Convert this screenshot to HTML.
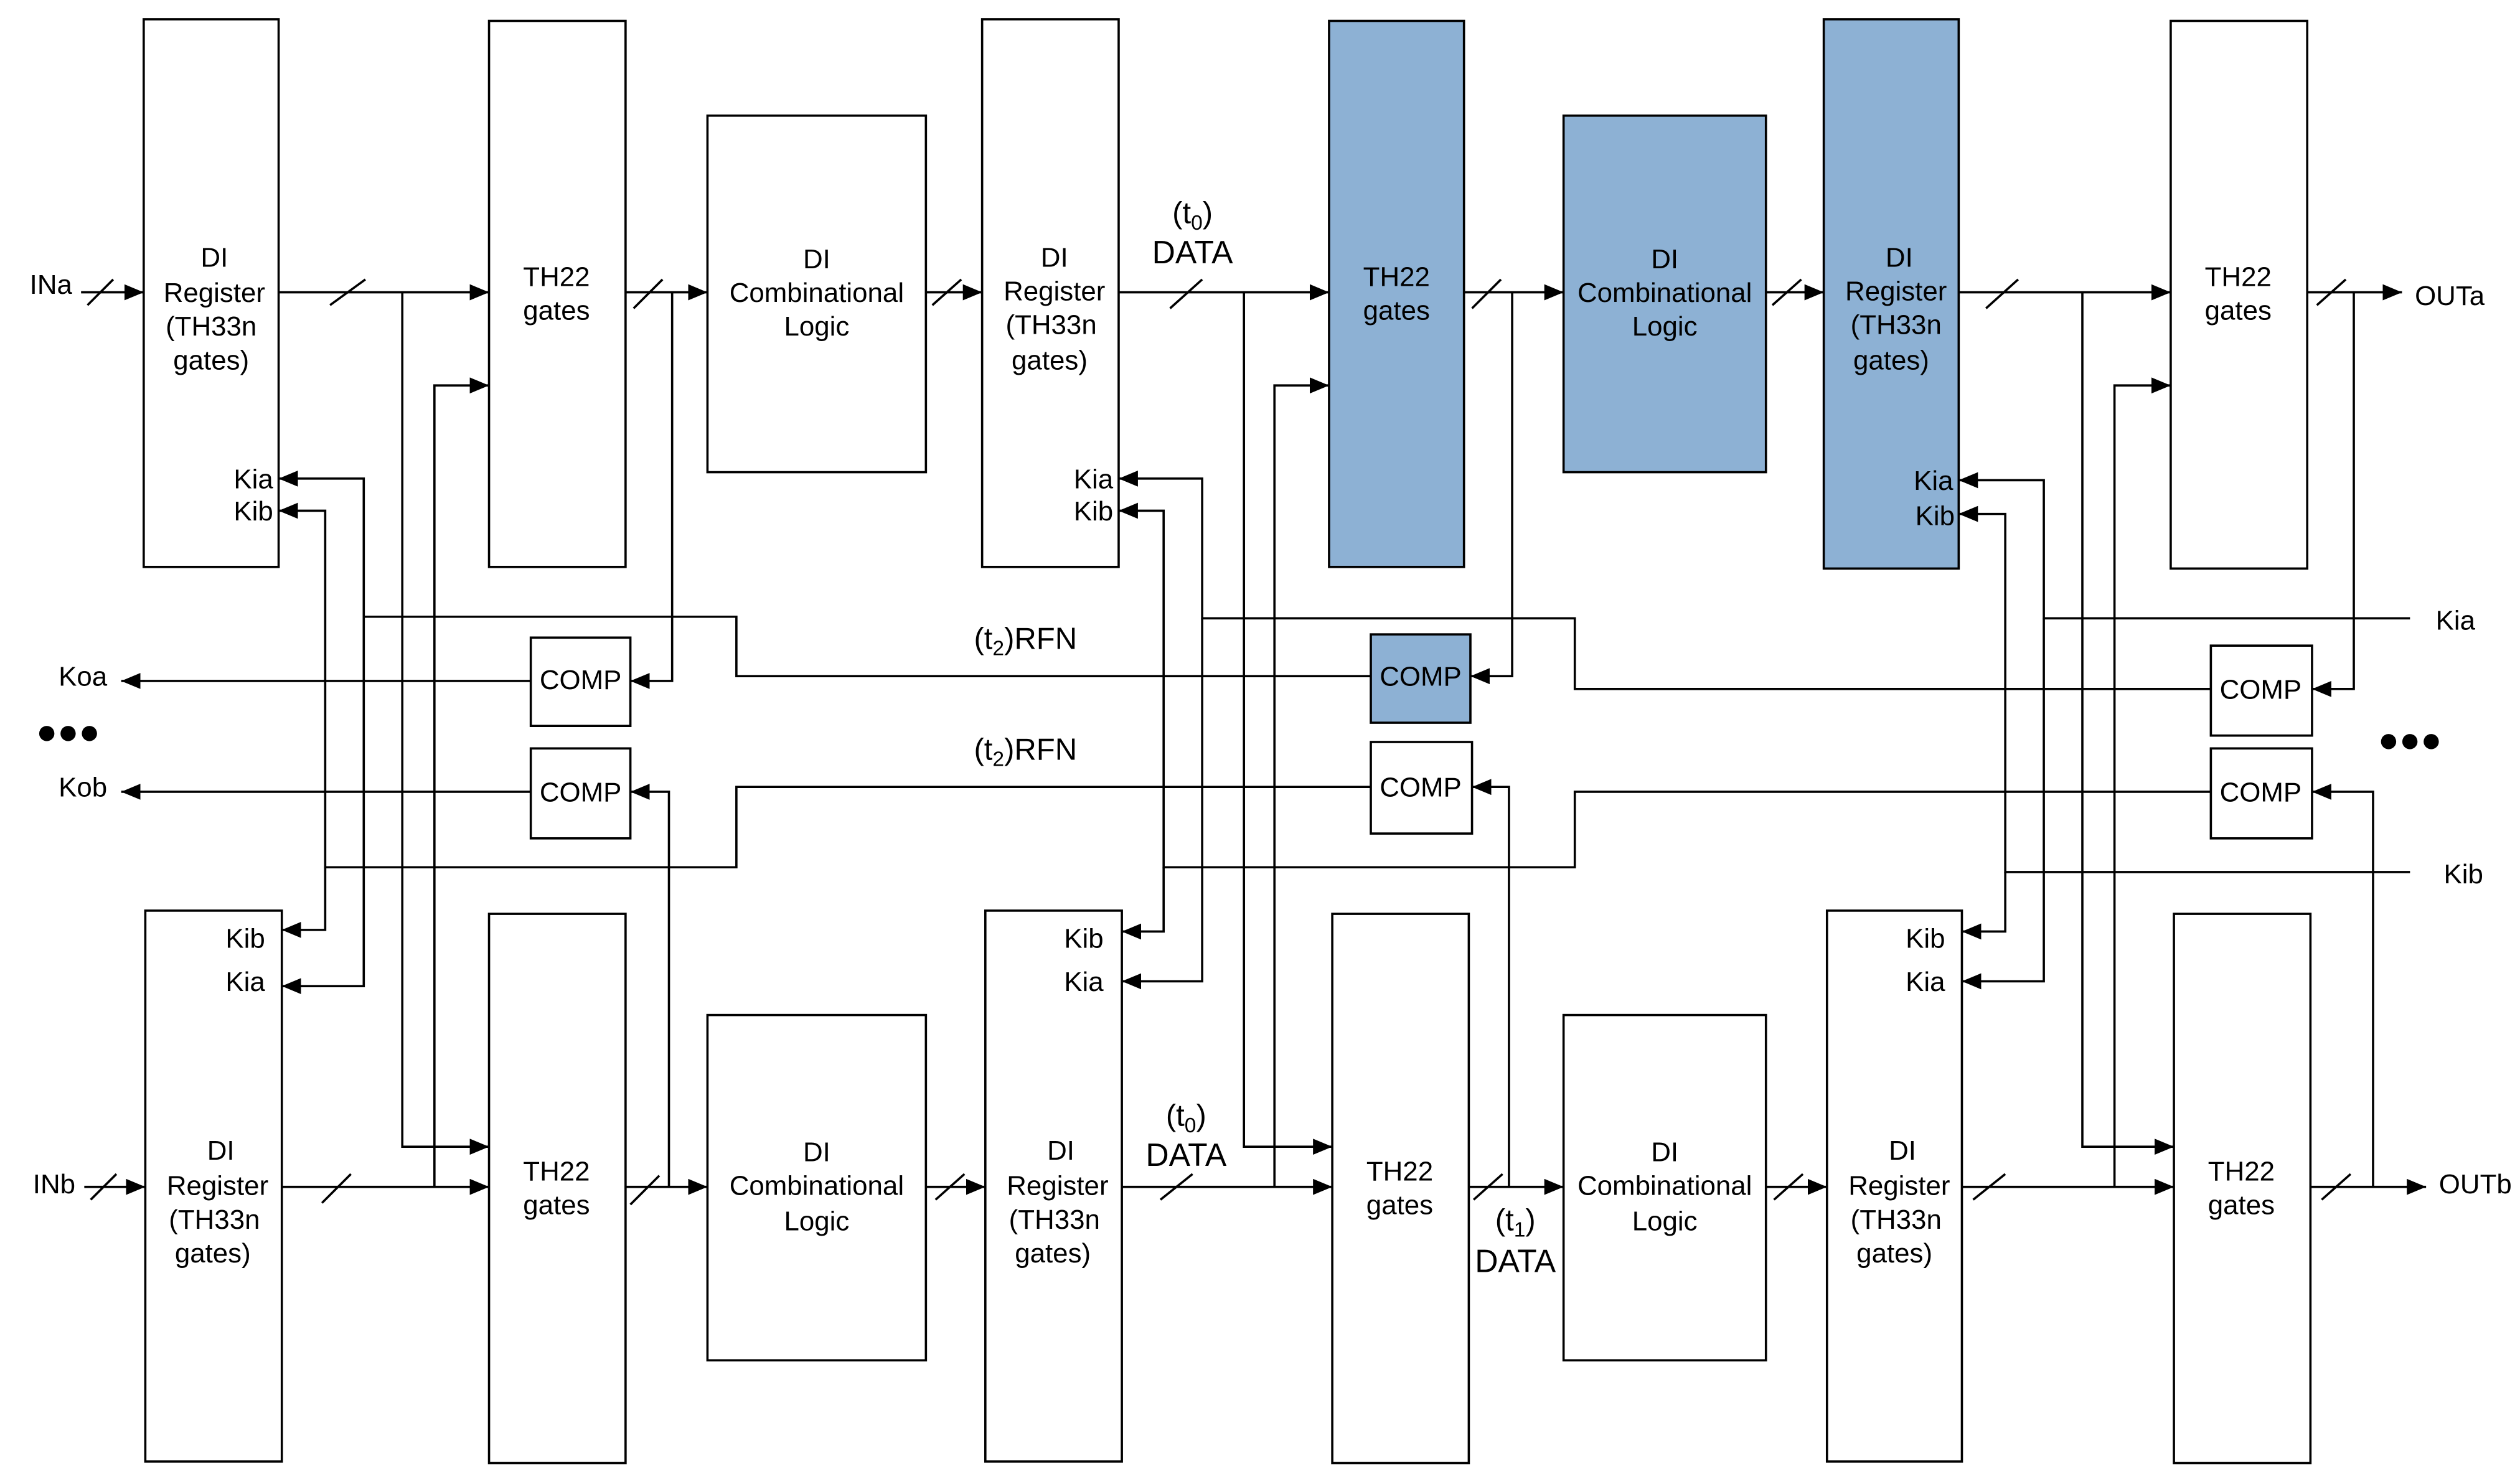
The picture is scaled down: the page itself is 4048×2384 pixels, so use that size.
<!DOCTYPE html>
<html><head><meta charset="utf-8"><style>
html,body{margin:0;padding:0;background:#fff;}
svg{display:block;}
text{font-family:"Liberation Sans",sans-serif;font-size:17px;fill:#000;}
</style></head><body>
<svg width="4048" height="2384" viewBox="0 0 1568 924" xmlns="http://www.w3.org/2000/svg">
<defs>
<marker id="a" markerWidth="12" markerHeight="10" refX="12" refY="5" orient="auto" markerUnits="userSpaceOnUse">
<path d="M0,0 L12,5 L0,10 z" fill="#000"/></marker>
</defs>
<g fill="#fff" stroke="#000" stroke-width="1.4">
<rect x="89" y="12" width="84" height="341"/>
<rect x="304" y="13" width="85" height="340"/>
<rect x="440" y="72" width="136" height="222"/>
<rect x="611" y="12" width="85" height="341"/>
<rect x="827" y="13" width="84" height="340" fill="#8db1d4"/>
<rect x="973" y="72" width="126" height="222" fill="#8db1d4"/>
<rect x="1135" y="12" width="84" height="342" fill="#8db1d4"/>
<rect x="1351" y="13" width="85" height="341"/>
<rect x="90" y="567" width="85" height="343"/>
<rect x="304" y="569" width="85" height="342"/>
<rect x="440" y="632" width="136" height="215"/>
<rect x="613" y="567" width="85" height="343"/>
<rect x="829" y="569" width="85" height="342"/>
<rect x="973" y="632" width="126" height="215"/>
<rect x="1137" y="567" width="84" height="343"/>
<rect x="1353" y="569" width="85" height="342"/>
<rect x="330" y="397" width="62" height="55"/>
<rect x="330" y="466" width="62" height="56"/>
<rect x="853" y="395" width="62" height="55" fill="#8db1d4"/>
<rect x="853" y="462" width="63" height="57"/>
<rect x="1376" y="402" width="63" height="56"/>
<rect x="1376" y="466" width="63" height="56"/>
</g>
<g fill="none" stroke="#000" stroke-width="1.4">
<path d="M50,182H89" marker-end="url(#a)"/>
<path d="M173,182H304" marker-end="url(#a)"/>
<path d="M389,182H440" marker-end="url(#a)"/>
<path d="M576,182H611" marker-end="url(#a)"/>
<path d="M696,182H827" marker-end="url(#a)"/>
<path d="M911,182H973" marker-end="url(#a)"/>
<path d="M1099,182H1135" marker-end="url(#a)"/>
<path d="M1219,182H1351" marker-end="url(#a)"/>
<path d="M1436,182H1495" marker-end="url(#a)"/>
<path d="M52,739H90" marker-end="url(#a)"/>
<path d="M175,739H304" marker-end="url(#a)"/>
<path d="M389,739H440" marker-end="url(#a)"/>
<path d="M576,739H613" marker-end="url(#a)"/>
<path d="M698,739H829" marker-end="url(#a)"/>
<path d="M914,739H973" marker-end="url(#a)"/>
<path d="M1099,739H1137" marker-end="url(#a)"/>
<path d="M1221,739H1353" marker-end="url(#a)"/>
<path d="M1438,739H1510" marker-end="url(#a)"/>
<path d="M54,190L70,174M205,190L227,174M394,192L412,174M580,190L598,174M728,192L748,174M916,192L934,174M1103,190L1121,174M1236,192L1256,174M1442,190L1460,174"/>
<path d="M56,747L72,731M200,749L218,731M392,750L410,732M582,747L600,731M722,747L742,731M917,747L935,731M1104,747L1122,731M1228,747L1248,731M1445,747L1463,731"/>
<path d="M250,182V714H304" marker-end="url(#a)"/>
<path d="M270,739V240H304" marker-end="url(#a)"/>
<path d="M774,182V714H829" marker-end="url(#a)"/>
<path d="M793,739V240H827" marker-end="url(#a)"/>
<path d="M1296,182V714H1353" marker-end="url(#a)"/>
<path d="M1316,739V240H1351" marker-end="url(#a)"/>
<path d="M418,182V424H392" marker-end="url(#a)"/>
<path d="M416,739V493H392" marker-end="url(#a)"/>
<path d="M941,182V421H915" marker-end="url(#a)"/>
<path d="M939,739V490H916" marker-end="url(#a)"/>
<path d="M1465,182V429H1439" marker-end="url(#a)"/>
<path d="M1477,739V493H1439" marker-end="url(#a)"/>
<path d="M330,424H75" marker-end="url(#a)"/>
<path d="M330,493H75" marker-end="url(#a)"/>
<path d="M853,421H458V384H226V298H173" marker-end="url(#a)"/>
<path d="M226,384V614H175" marker-end="url(#a)"/>
<path d="M853,490H458V540H202V318H173" marker-end="url(#a)"/>
<path d="M202,540V579H175" marker-end="url(#a)"/>
<path d="M1376,429H980V385H748V298H696" marker-end="url(#a)"/>
<path d="M748,385V611H698" marker-end="url(#a)"/>
<path d="M1376,493H980V540H724V318H696" marker-end="url(#a)"/>
<path d="M724,540V580H698" marker-end="url(#a)"/>
<path d="M1500,385H1272V299H1219" marker-end="url(#a)"/>
<path d="M1272,385V611H1221" marker-end="url(#a)"/>
<path d="M1500,543H1248V320H1219" marker-end="url(#a)"/>
<path d="M1248,543V580H1221" marker-end="url(#a)"/>
</g>
<g text-anchor="middle">
<text x="133" y="166">DI</text><text x="133" y="188">Register</text><text x="131" y="209">(TH33n</text><text x="131" y="230">gates)</text>
<text x="346" y="178">TH22</text><text x="346" y="199">gates</text>
<text x="508" y="167">DI</text><text x="508" y="188">Combinational</text><text x="508" y="209">Logic</text>
<text x="656" y="166">DI</text><text x="656" y="187">Register</text><text x="654" y="208">(TH33n</text><text x="653" y="230">gates)</text>
<text x="869" y="178">TH22</text><text x="869" y="199">gates</text>
<text x="1036" y="167">DI</text><text x="1036" y="188">Combinational</text><text x="1036" y="209">Logic</text>
<text x="1182" y="166">DI</text><text x="1180" y="187">Register</text><text x="1180" y="208">(TH33n</text><text x="1177" y="230">gates)</text>
<text x="1393" y="178">TH22</text><text x="1393" y="199">gates</text>
<text x="137" y="722">DI</text><text x="135" y="744">Register</text><text x="133" y="765">(TH33n</text><text x="132" y="786">gates)</text>
<text x="346" y="735">TH22</text><text x="346" y="756">gates</text>
<text x="508" y="723">DI</text><text x="508" y="744">Combinational</text><text x="508" y="766">Logic</text>
<text x="660" y="722">DI</text><text x="658" y="744">Register</text><text x="656" y="765">(TH33n</text><text x="655" y="786">gates)</text>
<text x="871" y="735">TH22</text><text x="871" y="756">gates</text>
<text x="1036" y="723">DI</text><text x="1036" y="744">Combinational</text><text x="1036" y="766">Logic</text>
<text x="1184" y="722">DI</text><text x="1182" y="744">Register</text><text x="1180" y="765">(TH33n</text><text x="1179" y="786">gates)</text>
<text x="1395" y="735">TH22</text><text x="1395" y="756">gates</text>
<text x="361" y="429">COMP</text><text x="361" y="499">COMP</text>
<text x="884" y="427">COMP</text><text x="884" y="496">COMP</text>
<text x="1407" y="435">COMP</text><text x="1407" y="499">COMP</text>
<text x="742" y="139" style="font-size:19px">(t<tspan font-size="13" dy="4">0</tspan><tspan dy="-4">)</tspan></text>
<text x="742" y="164" style="font-size:20px">DATA</text>
<text x="738" y="701" style="font-size:19px">(t<tspan font-size="13" dy="4">0</tspan><tspan dy="-4">)</tspan></text>
<text x="738" y="726" style="font-size:20px">DATA</text>
<text x="943" y="766" style="font-size:19px">(t<tspan font-size="13" dy="4">1</tspan><tspan dy="-4">)</tspan></text>
<text x="943" y="792" style="font-size:20px">DATA</text>
<text x="638" y="404" style="font-size:19px">(t<tspan font-size="13" dy="4">2</tspan><tspan dy="-4">)RFN</tspan></text>
<text x="638" y="473" style="font-size:19px">(t<tspan font-size="13" dy="4">2</tspan><tspan dy="-4">)RFN</tspan></text>
</g>
<g>
<text x="18" y="183">INa</text><text x="20" y="743">INb</text>
<text x="1503" y="190">OUTa</text><text x="1518" y="743">OUTb</text>
<text x="36" y="427">Koa</text><text x="36" y="496">Kob</text>
<text x="1516" y="392">Kia</text><text x="1521" y="550">Kib</text>
<text x="145" y="304">Kia</text><text x="145" y="324">Kib</text>
<text x="668" y="304">Kia</text><text x="668" y="324">Kib</text>
<text x="1191" y="305">Kia</text><text x="1192" y="327">Kib</text>
<text x="140" y="590">Kib</text><text x="140" y="617">Kia</text>
<text x="662" y="590">Kib</text><text x="662" y="617">Kia</text>
<text x="1186" y="590">Kib</text><text x="1186" y="617">Kia</text>
<text x="22" y="463" style="font-size:22px">●●●</text>
<text x="1480" y="468" style="font-size:22px">●●●</text>
</g>
</svg>
</body></html>
